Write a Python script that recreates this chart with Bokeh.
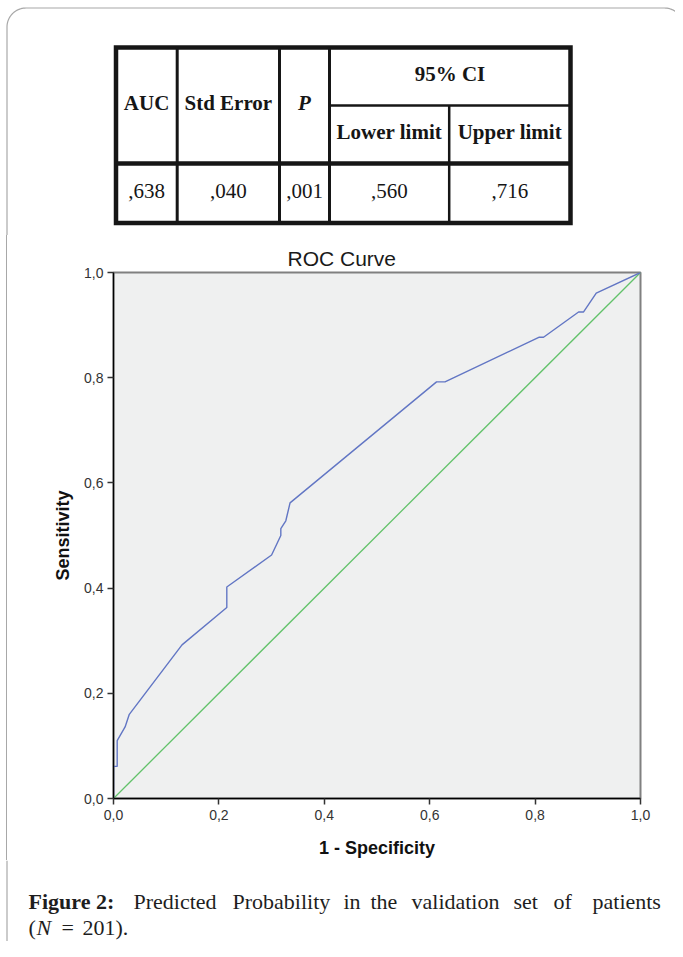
import numpy as np
from bokeh.plotting import figure
from bokeh.models import Range1d, FixedTicker, CustomJSTickFormatter, Div
from bokeh.layouts import column, row
from bokeh.core.properties import value
from bokeh.embed import file_html
from bokeh.resources import INLINE

# ---------------- data ----------------
header_main = ["AUC", "Std Error", "P"]
header_ci = "95% CI"
header_sub = ["Lower limit", "Upper limit"]
table_values = [",638", ",040", ",001", ",560", ",716"]

fpr = [0.0, 0.0, 0.007, 0.007, 0.022, 0.030, 0.130, 0.215, 0.215, 0.300,
       0.3175, 0.3175, 0.327, 0.335, 0.613, 0.629, 0.808, 0.816, 0.8825,
       0.892, 0.916, 1.0]
tpr = [0.0, 0.061, 0.061, 0.110, 0.136, 0.160, 0.292, 0.363, 0.402, 0.463,
       0.500, 0.513, 0.528, 0.562, 0.792, 0.792, 0.877, 0.877, 0.925,
       0.925, 0.961, 1.0]
ref_x = [0.0, 1.0]
ref_y = [0.0, 1.0]

tick_values = [0.0, 0.2, 0.4, 0.6, 0.8, 1.0]
tick_labels = ["0,0", "0,2", "0,4", "0,6", "0,8", "1,0"]

title_text = "ROC Curve"
x_label = "1 - Specificity"
y_label = "Sensitivity"

caption_bold = "Figure 2:"
caption_words = ["Predicted", "Probability", "in", "the", "validation",
                 "set", "of", "patients"]
caption_line2 = ["(", "N", "=", "201)."]

# ---------------- styling / layout ----------------
FRAME_COL = "#a8a8a8"
SERIF = value("Liberation Serif")
SANS = "Liberation Sans"
W = 675
TH, RH, CH = 235, 625, 81
STRIP = 7


def blank(width, height, fill="white"):
    f = figure(width=width, height=height, x_range=Range1d(0, width),
               y_range=Range1d(height, 0), x_axis_type=None, y_axis_type=None,
               min_border=0, output_backend="svg", toolbar_location=None)
    f.outline_line_color = None
    f.background_fill_color = fill
    f.border_fill_color = fill
    f.frame_align = False
    return f


FL, FT, R = 6.5, 7.5, 19.0

# ---------------- table figure ----------------
t = blank(W, TH)
phi = np.linspace(0, np.pi / 2, 24)
left_arc_x = (FL + R) - R * np.cos(phi)
left_arc_y = (FT + R) - R * np.sin(phi)
cx2 = 683 - R
right_arc_x = cx2 + R * np.sin(phi)
right_arc_y = (FT + R) - R * np.cos(phi)
fx = [FL] + list(left_arc_x) + list(right_arc_x)
fy = [TH] + list(left_arc_y) + list(right_arc_y)
t.line(fx, fy, line_color=FRAME_COL, line_width=1.2)

colx = [115.5, 176.7, 279.0, 329.0, 448.7, 570.0]
rowy = [47.0, 105.0, 163.0, 222.5]
INK = "#161616"
t.quad(left=colx[0], right=colx[-1], top=rowy[0], bottom=rowy[-1],
       fill_color=None, line_color=INK, line_width=4.5, line_join="miter")
t.segment(x0=[colx[1], colx[2], colx[3]], y0=[rowy[0]] * 3,
          x1=[colx[1], colx[2], colx[3]], y1=[rowy[3]] * 3,
          line_color=INK, line_width=3)
t.segment(x0=[colx[4]], y0=[rowy[1]], x1=[colx[4]], y1=[rowy[3]],
          line_color=INK, line_width=2.5)
t.segment(x0=[colx[3]], y0=[rowy[1]], x1=[colx[5]], y1=[rowy[1]],
          line_color=INK, line_width=2.5)
t.segment(x0=[colx[0]], y0=[rowy[2]], x1=[colx[5]], y1=[rowy[2]],
          line_color=INK, line_width=4.5)

centers = [(colx[i] + colx[i + 1]) / 2 for i in range(5)]
HFS = "21px"
hy = (rowy[0] + rowy[2]) / 2 - 3
t.text(x=centers[:2], y=[hy, hy], text=header_main[:2], text_align="center",
       text_baseline="middle", text_font=SERIF, text_font_size=HFS,
       text_font_style="bold", text_color=INK)
t.text(x=[centers[2]], y=[hy], text=[header_main[2]], text_align="center",
       text_baseline="middle", text_font=SERIF, text_font_size=HFS,
       text_font_style="bold italic", text_color=INK)
t.text(x=[(colx[3] + colx[5]) / 2], y=[(rowy[0] + rowy[1]) / 2 - 3],
       text=[header_ci], text_align="center", text_baseline="middle",
       text_font=SERIF, text_font_size=HFS, text_font_style="bold",
       text_color=INK)
sy = (rowy[1] + rowy[2]) / 2 - 3
t.text(x=centers[3:], y=[sy, sy], text=header_sub, text_align="center",
       text_baseline="middle", text_font=SERIF, text_font_size=HFS,
       text_font_style="bold", text_color=INK)
vy = (rowy[2] + rowy[3]) / 2 - 2
t.text(x=centers, y=[vy] * 5, text=table_values, text_align="center",
       text_baseline="middle", text_font=SERIF, text_font_size="21px",
       text_color=INK)

# ---------------- left frame strip next to ROC (plain HTML bar) ----------------
lf = Div(width=STRIP, height=RH,
         text=('<div style="position:absolute;left:6px;top:0px;width:1px;'
               'height:%dpx;background:%s;"></div>' % (RH, FRAME_COL)),
         styles={"background": "linear-gradient(to right, #ffffff 6px, %s 6px, %s 7px)"
                 % (FRAME_COL, FRAME_COL),
                 "margin": "0px", "padding": "0px"})

# ---------------- ROC figure ----------------
RW = W - STRIP
p = figure(width=RW, height=RH, x_range=Range1d(0, 1), y_range=Range1d(0, 1),
           min_border_left=106, min_border_right=RW - 106 - 527,
           min_border_top=37, min_border_bottom=RH - 37 - 527,
           output_backend="svg", toolbar_location=None, title=title_text)
p.frame_align = False
p.background_fill_color = "#eff0f0"
p.border_fill_color = "white"
p.outline_line_color = "#808080"
p.outline_line_width = 2
p.grid.visible = False

p.title.align = "left"
p.title.offset = 174
p.title.standoff = 6
p.title.text_font = SANS
p.title.text_font_size = "21px"
p.title.text_font_style = "normal"
p.title.text_color = "#1a1a1a"

fmt = CustomJSTickFormatter(
    args=dict(vals=tick_values, labs=tick_labels),
    code="const i = vals.findIndex(v => Math.abs(v - tick) < 1e-9); return i >= 0 ? labs[i] : '';")
for ax in (p.xaxis[0], p.yaxis[0]):
    ax.ticker = FixedTicker(ticks=tick_values)
    ax.formatter = fmt
    ax.axis_line_color = "#000000"
    ax.axis_line_width = 1.4
    ax.major_tick_line_color = "#333333"
    ax.major_tick_line_width = 1.5
    ax.major_tick_in = 0
    ax.major_tick_out = 6
    ax.minor_tick_line_color = None
    ax.major_label_text_font = SANS
    ax.major_label_text_font_size = "14px"
    ax.major_label_text_color = "#333333"
    ax.axis_label_text_font = SANS
    ax.axis_label_text_font_size = "18px"
    ax.axis_label_text_font_style = "bold"
    ax.axis_label_text_color = "#111111"
p.xaxis[0].axis_label = x_label
p.yaxis[0].axis_label = y_label
p.xaxis[0].major_label_standoff = 5
p.xaxis[0].axis_label_standoff = 15
p.yaxis[0].major_label_standoff = 4
p.yaxis[0].axis_label_standoff = 8

p.line(ref_x, ref_y, line_color="#62c26a", line_width=1.3)
p.line(fpr, tpr, line_color="#6276c4", line_width=1.4)

# ---------------- caption figure ----------------
c = blank(W, CH)
c.line([FL, FL], [0, CH], line_color=FRAME_COL, line_width=1.2)
CAP_INK = "#1e1e1e"
CFS = "22px"
y1 = 41
y2 = 67
c.text(x=[28], y=[y1], text=[caption_bold], text_align="left",
       text_baseline="middle", text_font=SERIF, text_font_size=CFS,
       text_font_style="bold", text_color=CAP_INK)
word_x = [133, 232, 343, 370, 411, 513, 553, 592]
c.text(x=word_x, y=[y1] * len(caption_words), text=caption_words,
       text_align="left", text_baseline="middle", text_font=SERIF,
       text_font_size=CFS, text_color=CAP_INK)
c.text(x=[28, 61, 82], y=[y2] * 3,
       text=[caption_line2[0], caption_line2[2], caption_line2[3]],
       text_align="left", text_baseline="middle", text_font=SERIF,
       text_font_size=CFS, text_color=CAP_INK)
c.text(x=[36], y=[y2], text=[caption_line2[1]], text_align="left",
       text_baseline="middle", text_font=SERIF, text_font_size=CFS,
       text_font_style="italic", text_color=CAP_INK)

layout = column(t, row(lf, p), c)
open("out.html", "w").write(file_html(layout, INLINE))
